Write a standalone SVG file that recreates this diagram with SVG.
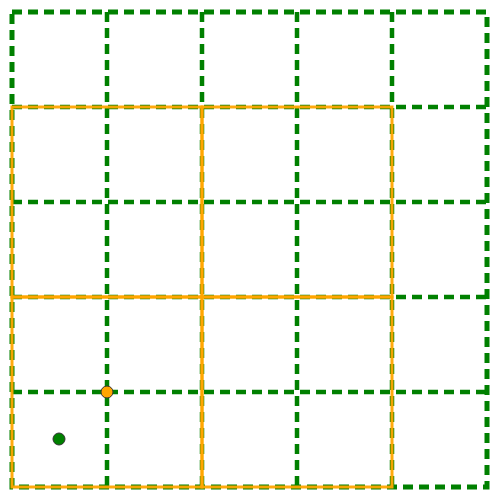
<svg xmlns="http://www.w3.org/2000/svg" width="500" height="500" viewBox="0 0 500 500">
<style>
.g{stroke:#008000;stroke-width:4.5;stroke-dasharray:10,6;fill:none}
.o{stroke:#FFA500;stroke-width:3;fill:none;stroke-opacity:0.95}
.pt{stroke:#333;stroke-width:1}
</style>
<rect width="500" height="500" fill="#fff"/>
<g id="grid">
<rect class="g" x="12" y="12" width="475" height="475" style="stroke-width:5"/>
<path class="g" d="M107,12V487M202,12V487M297,12V487M392,12V487M12,107H487M12,202H487M12,297H487M12,392H487"/>
</g>
<g id="cells">
<rect class="o" x="12" y="107" width="190" height="190"/>
<rect class="o" x="202" y="107" width="190" height="190"/>
<rect class="o" x="12" y="297" width="190" height="190"/>
<rect class="o" x="202" y="297" width="190" height="190"/>
</g>
<g id="p1"><circle class="pt" cx="107" cy="392" r="6" fill="#FFA500"/></g>
<g id="p2"><circle class="pt" cx="59" cy="439" r="6" fill="#008000"/></g>
</svg>
